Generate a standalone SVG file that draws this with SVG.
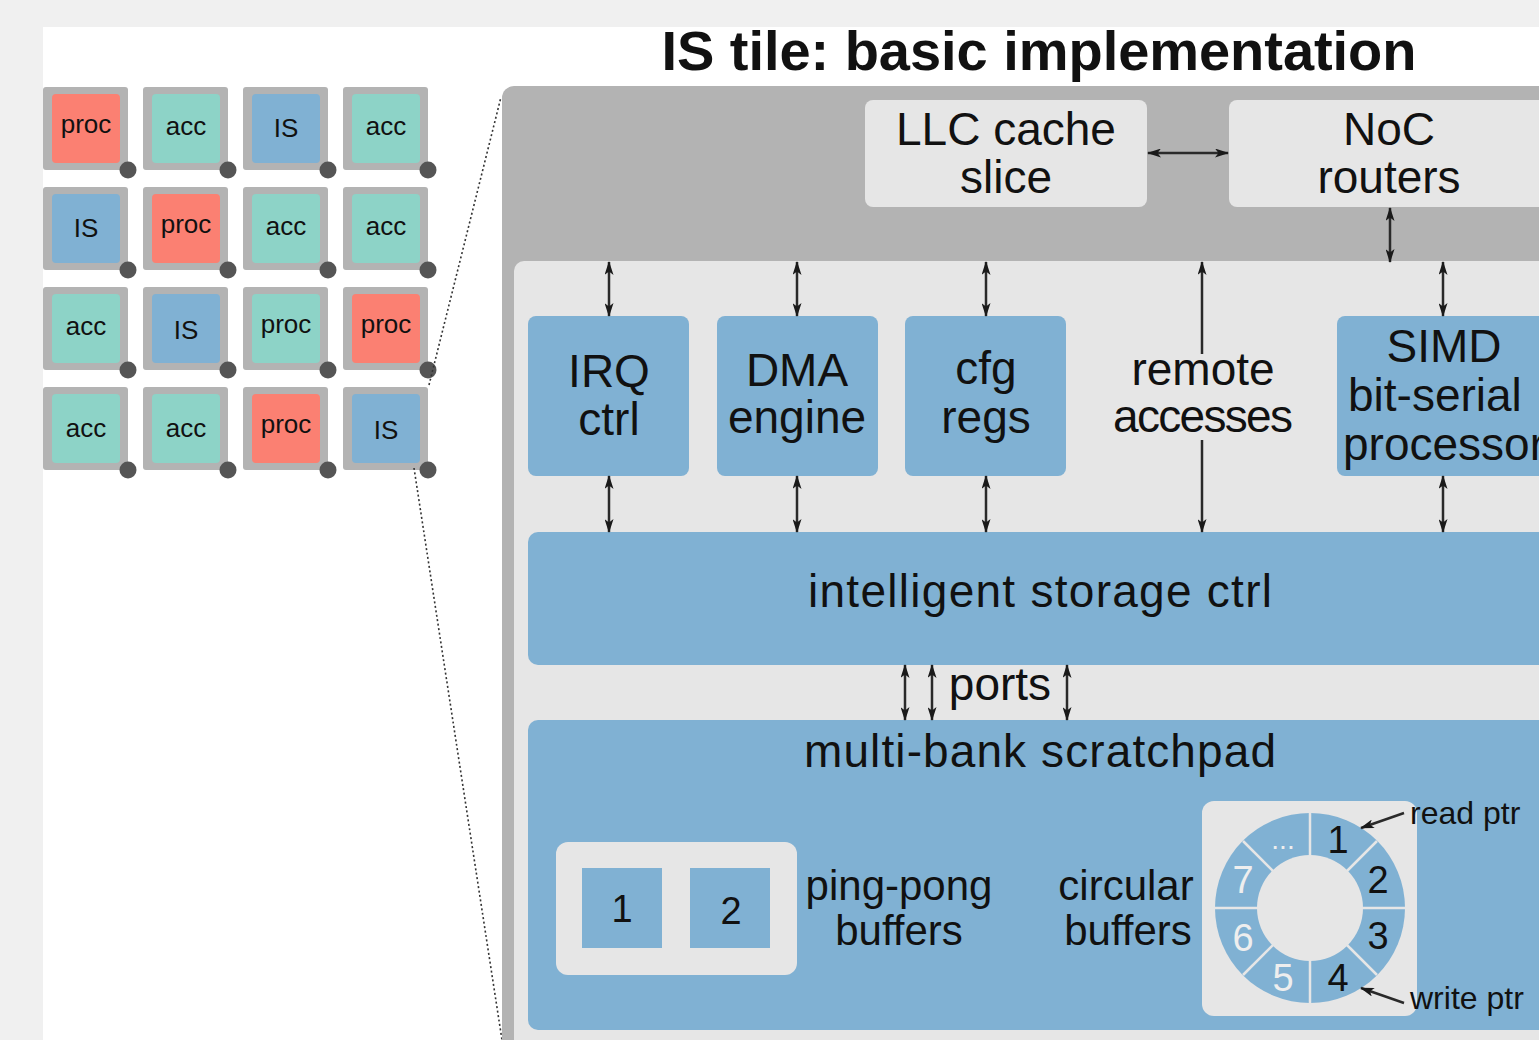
<svg xmlns="http://www.w3.org/2000/svg" width="1539" height="1040" viewBox="0 0 1539 1040">
<defs>
<marker id="ah" viewBox="0 0 14 9" refX="13" refY="4.5" markerWidth="14" markerHeight="9" markerUnits="userSpaceOnUse" orient="auto-start-reverse">
<path d="M0,0 L14,4.5 L0,9 L3.5,4.5 z" fill="#1a1a1a"/>
</marker>
<style>
text{font-family:"Liberation Sans",Arial,sans-serif;fill:#111;}
.t{font-size:26px;text-anchor:middle;}
.lbl{font-size:46px;text-anchor:middle;}
.mid{font-size:42px;text-anchor:middle;}
.num{font-size:38px;text-anchor:middle;}
.wnum{font-size:38px;text-anchor:middle;fill:#eeeeee;}
.ptr{font-size:32px;}
.frame{fill:#b3b3b3;}
.proc{fill:#fb8072;}
.acc{fill:#8dd3c7;}
.is{fill:#80b1d3;}
.dot{fill:#555555;}
.blue{fill:#80b1d3;}
.light{fill:#e6e6e6;}
.arr{stroke:#2a2a2a;stroke-width:2.5;fill:none;}
.dotted{stroke:#333;stroke-width:1.6;stroke-dasharray:2 2.5;fill:none;}
</style>
</defs>

<rect x="0" y="0" width="1539" height="1040" fill="#f0f0f0"/>
<rect x="43" y="27" width="1496" height="1013" fill="#ffffff"/>

<text x="1039" y="70" style="font-size:56px;font-weight:bold;text-anchor:middle" textLength="755">IS tile: basic implementation</text>

<!-- grid of tiles -->
<g id="grid">
<g id="t11"><rect class="frame" x="43" y="87" width="85" height="83" rx="3"/><rect class="proc" x="52" y="94" width="68" height="69" rx="4"/><text class="t" x="86" y="133">proc</text><circle class="dot" cx="128" cy="170" r="8.5"/></g>
<g id="t12"><rect class="frame" x="143" y="87" width="85" height="83" rx="3"/><rect class="acc" x="152" y="94" width="68" height="69" rx="4"/><text class="t" x="186" y="135">acc</text><circle class="dot" cx="228" cy="170" r="8.5"/></g>
<g id="t13"><rect class="frame" x="243" y="87" width="85" height="83" rx="3"/><rect class="is" x="252" y="94" width="68" height="69" rx="4"/><text class="t" x="286" y="137">IS</text><circle class="dot" cx="328" cy="170" r="8.5"/></g>
<g id="t14"><rect class="frame" x="343" y="87" width="85" height="83" rx="3"/><rect class="acc" x="352" y="94" width="68" height="69" rx="4"/><text class="t" x="386" y="135">acc</text><circle class="dot" cx="428" cy="170" r="8.5"/></g>

<g id="t21"><rect class="frame" x="43" y="187" width="85" height="83" rx="3"/><rect class="is" x="52" y="194" width="68" height="69" rx="4"/><text class="t" x="86" y="237">IS</text><circle class="dot" cx="128" cy="270" r="8.5"/></g>
<g id="t22"><rect class="frame" x="143" y="187" width="85" height="83" rx="3"/><rect class="proc" x="152" y="194" width="68" height="69" rx="4"/><text class="t" x="186" y="233">proc</text><circle class="dot" cx="228" cy="270" r="8.5"/></g>
<g id="t23"><rect class="frame" x="243" y="187" width="85" height="83" rx="3"/><rect class="acc" x="252" y="194" width="68" height="69" rx="4"/><text class="t" x="286" y="235">acc</text><circle class="dot" cx="328" cy="270" r="8.5"/></g>
<g id="t24"><rect class="frame" x="343" y="187" width="85" height="83" rx="3"/><rect class="acc" x="352" y="194" width="68" height="69" rx="4"/><text class="t" x="386" y="235">acc</text><circle class="dot" cx="428" cy="270" r="8.5"/></g>

<g id="t31"><rect class="frame" x="43" y="287" width="85" height="83" rx="3"/><rect class="acc" x="52" y="294" width="68" height="69" rx="4"/><text class="t" x="86" y="335">acc</text><circle class="dot" cx="128" cy="370" r="8.5"/></g>
<g id="t32"><rect class="frame" x="143" y="287" width="85" height="83" rx="3"/><rect class="is" x="152" y="294" width="68" height="69" rx="4"/><text class="t" x="186" y="339">IS</text><circle class="dot" cx="228" cy="370" r="8.5"/></g>
<g id="t33"><rect class="frame" x="243" y="287" width="85" height="83" rx="3"/><rect class="acc" x="252" y="294" width="68" height="69" rx="4"/><text class="t" x="286" y="333">proc</text><circle class="dot" cx="328" cy="370" r="8.5"/></g>
<g id="t34"><rect class="frame" x="343" y="287" width="85" height="83" rx="3"/><rect class="proc" x="352" y="294" width="68" height="69" rx="4"/><text class="t" x="386" y="333">proc</text><circle class="dot" cx="428" cy="370" r="8.5"/></g>

<g id="t41"><rect class="frame" x="43" y="387" width="85" height="83" rx="3"/><rect class="acc" x="52" y="394" width="68" height="69" rx="4"/><text class="t" x="86" y="437">acc</text><circle class="dot" cx="128" cy="470" r="8.5"/></g>
<g id="t42"><rect class="frame" x="143" y="387" width="85" height="83" rx="3"/><rect class="acc" x="152" y="394" width="68" height="69" rx="4"/><text class="t" x="186" y="437">acc</text><circle class="dot" cx="228" cy="470" r="8.5"/></g>
<g id="t43"><rect class="frame" x="243" y="387" width="85" height="83" rx="3"/><rect class="proc" x="252" y="394" width="68" height="69" rx="4"/><text class="t" x="286" y="433">proc</text><circle class="dot" cx="328" cy="470" r="8.5"/></g>
<g id="t44"><rect class="frame" x="343" y="387" width="85" height="83" rx="3"/><rect class="is" x="352" y="394" width="68" height="69" rx="4"/><text class="t" x="386" y="439">IS</text><circle class="dot" cx="428" cy="470" r="8.5"/></g>
</g>

<!-- zoom lines -->
<g id="zoomlines">
<line class="dotted" x1="429" y1="385" x2="501" y2="97"/>
<line class="dotted" x1="414" y1="468" x2="502" y2="1040"/>
</g>

<!-- IS tile -->
<g id="tile">
<rect class="frame" x="502" y="86" width="1200" height="1100" rx="12"/>
<rect class="light" x="514" y="261" width="1200" height="1100" rx="10"/>
</g>

<g id="llc"><rect class="light" x="865" y="100" width="282" height="107" rx="8"/><text class="lbl" x="1006" y="145">LLC cache</text><text class="lbl" x="1006" y="193">slice</text></g>
<g id="noc"><rect class="light" x="1229" y="100" width="400" height="107" rx="8"/><text class="lbl" x="1389" y="145">NoC</text><text class="lbl" x="1389" y="193">routers</text></g>

<g id="irq"><rect class="blue" x="528" y="316" width="161" height="160" rx="8"/><text class="lbl" x="609" y="387">IRQ</text><text class="lbl" x="609" y="435">ctrl</text></g>
<g id="dma"><rect class="blue" x="717" y="316" width="161" height="160" rx="8"/><text class="lbl" x="797" y="386">DMA</text><text class="lbl" x="797" y="433">engine</text></g>
<g id="cfg"><rect class="blue" x="905" y="316" width="161" height="160" rx="8"/><text class="lbl" x="986" y="384">cfg</text><text class="lbl" x="986" y="433">regs</text></g>
<g id="remote"><text class="lbl" x="1203" y="385">remote</text><text class="lbl" x="1203" y="432" textLength="180">accesses</text></g>
<g id="simd"><rect class="blue" x="1337" y="316" width="300" height="160" rx="8"/><text class="lbl" x="1444" y="362">SIMD</text><text class="lbl" x="1348" y="411" style="text-anchor:start">bit-serial</text><text class="lbl" x="1343" y="460" style="text-anchor:start">processor</text></g>

<g id="isc"><rect class="blue" x="528" y="532" width="1200" height="133" rx="10"/><text class="lbl" x="1040" y="607" textLength="464">intelligent storage ctrl</text></g>

<g id="ports"><text class="lbl" x="1000" y="700">ports</text></g>

<g id="scratchpad"><rect class="blue" x="528" y="720" width="1200" height="310" rx="10"/><text class="lbl" x="1040" y="767" textLength="472">multi-bank scratchpad</text></g>

<g id="pingpong">
<rect class="light" x="556" y="842" width="241" height="133" rx="12"/>
<rect class="blue" x="582" y="868" width="80" height="80"/>
<rect class="blue" x="690" y="868" width="80" height="80"/>
<text class="num" x="622" y="922">1</text>
<text class="num" x="731" y="924">2</text>
<text class="mid" x="899" y="900">ping-pong</text>
<text class="mid" x="899" y="945">buffers</text>
</g>

<g id="circular">
<text class="mid" x="1126" y="900">circular</text>
<text class="mid" x="1128" y="945">buffers</text>
<rect class="light" x="1202" y="801" width="215" height="215" rx="12"/>
<circle class="blue" cx="1310" cy="908" r="95"/>
<g stroke="#e6e6e6" stroke-width="2.5">
<line x1="1310" y1="813" x2="1310" y2="1003"/>
<line x1="1215" y1="908" x2="1405" y2="908"/>
<line x1="1243" y1="841" x2="1377" y2="975"/>
<line x1="1377" y1="841" x2="1243" y2="975"/>
</g>
<circle class="light" cx="1310" cy="908" r="53"/>
<text class="num" x="1338" y="853">1</text>
<text class="num" x="1378" y="893">2</text>
<text class="num" x="1378" y="949">3</text>
<text class="num" x="1338" y="991">4</text>
<text class="wnum" x="1283" y="991">5</text>
<text class="wnum" x="1243" y="951">6</text>
<text class="wnum" x="1243" y="893">7</text>
<text class="wnum" x="1283" y="849" style="font-size:28px">...</text>
<text class="ptr" x="1410" y="824">read ptr</text>
<text class="ptr" x="1410" y="1009">write ptr</text>
</g>

<g id="connectors">
<line class="arr" x1="1148" y1="153" x2="1228" y2="153" marker-start="url(#ah)" marker-end="url(#ah)"/>
<line class="arr" x1="1390" y1="208" x2="1390" y2="262" marker-start="url(#ah)" marker-end="url(#ah)"/>
<line class="arr" x1="609" y1="262" x2="609" y2="316" marker-start="url(#ah)" marker-end="url(#ah)"/>
<line class="arr" x1="609" y1="476" x2="609" y2="532" marker-start="url(#ah)" marker-end="url(#ah)"/>
<line class="arr" x1="797" y1="262" x2="797" y2="316" marker-start="url(#ah)" marker-end="url(#ah)"/>
<line class="arr" x1="797" y1="476" x2="797" y2="532" marker-start="url(#ah)" marker-end="url(#ah)"/>
<line class="arr" x1="986" y1="262" x2="986" y2="316" marker-start="url(#ah)" marker-end="url(#ah)"/>
<line class="arr" x1="986" y1="476" x2="986" y2="532" marker-start="url(#ah)" marker-end="url(#ah)"/>
<line class="arr" x1="1443" y1="262" x2="1443" y2="316" marker-start="url(#ah)" marker-end="url(#ah)"/>
<line class="arr" x1="1443" y1="476" x2="1443" y2="532" marker-start="url(#ah)" marker-end="url(#ah)"/>
<line class="arr" x1="1202" y1="262" x2="1202" y2="354" marker-start="url(#ah)"/>
<line class="arr" x1="1202" y1="440" x2="1202" y2="532" marker-end="url(#ah)"/>
<line class="arr" x1="905" y1="665" x2="905" y2="720" marker-start="url(#ah)" marker-end="url(#ah)"/>
<line class="arr" x1="932" y1="665" x2="932" y2="720" marker-start="url(#ah)" marker-end="url(#ah)"/>
<line class="arr" x1="1067" y1="665" x2="1067" y2="720" marker-start="url(#ah)" marker-end="url(#ah)"/>
<line class="arr" x1="1404" y1="813" x2="1361" y2="828" marker-end="url(#ah)"/>
<line class="arr" x1="1404" y1="1003" x2="1361" y2="988" marker-end="url(#ah)"/>
</g>
</svg>
